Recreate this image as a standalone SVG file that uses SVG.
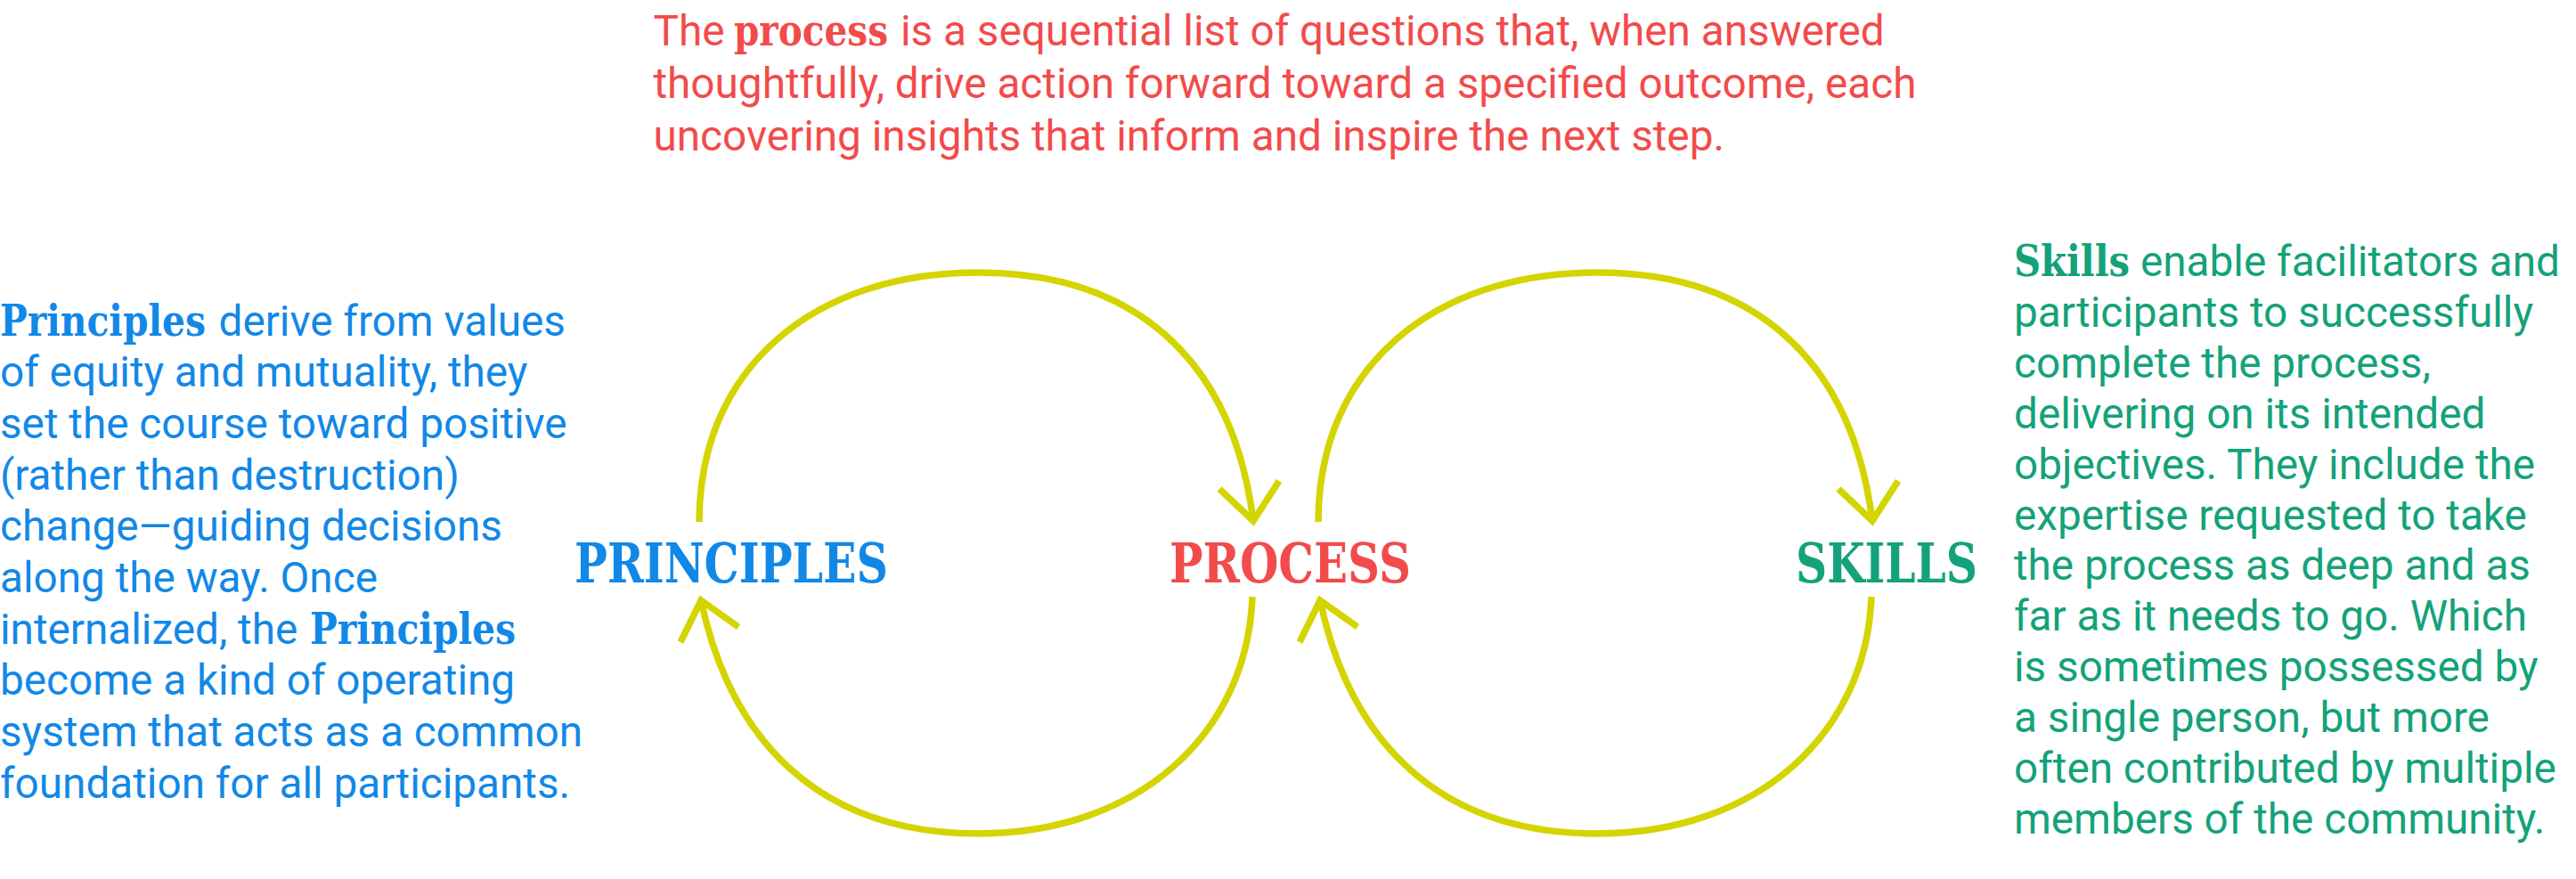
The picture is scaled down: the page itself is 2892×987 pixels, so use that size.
<svg xmlns="http://www.w3.org/2000/svg" width="2892" height="987" viewBox="0 0 2892 987">
<style>
.r{font-family:Roboto,"Liberation Sans",sans-serif;font-size:47.7px;font-weight:400}
.b{font-family:"DejaVu Serif","Liberation Serif",serif;font-size:48px;font-weight:bold}
.lbl{font-family:"DejaVu Serif","Liberation Serif",serif;font-size:61px;font-weight:bold}
.red{fill:#F24B4B}
.blue{fill:#1288E6}
.green{fill:#14A27A}
.arc{fill:none;stroke:#D4D400;stroke-width:7.5;stroke-linecap:butt;stroke-linejoin:miter;stroke-miterlimit:10}
</style>
<defs>
<g id="loop">
<path class="arc" d="M785,586 C785,412 915,306 1098,306 C1280,306 1385,410 1407,585"/>
<polyline class="arc" points="1369,549 1407,585 1436,540"/>
<path class="arc" d="M1406,670 C1400,826 1276,936 1098,936 C918,936 820,830 787,674"/>
<polyline class="arc" points="764,721 787,674 829,704"/>
</g>
</defs>
<rect width="2892" height="987" fill="#FFFFFF"/>
<g id="connectors">
<use href="#loop"/>
<use href="#loop" transform="translate(695,0)"/>
</g>
<g id="process-description">
<text class="r red" x="733.5" y="50.5">The</text>
<text class="b red" x="824" y="50.5" textLength="173" lengthAdjust="spacingAndGlyphs">process</text>
<text class="r red" x="1011" y="50.5">is a sequential list of questions that, when answered</text>
<text class="r red" x="733.5" y="109.5">thoughtfully, drive action forward toward a specified outcome, each</text>
<text class="r red" x="733.5" y="168.5">uncovering insights that inform and inspire the next step.</text>
</g>
<g id="principles-description">
<text class="b blue" x="0" y="376.5" textLength="231" lengthAdjust="spacingAndGlyphs">Principles</text>
<text class="r blue" x="245.5" y="376.5">derive from values</text>
<text class="r blue" x="0" y="434.2">of equity and mutuality, they</text>
<text class="r blue" x="0" y="491.9">set the course toward positive</text>
<text class="r blue" x="0" y="549.6">(rather than destruction)</text>
<text class="r blue" x="0" y="607.3">change—guiding decisions</text>
<text class="r blue" x="0" y="665">along the way. Once</text>
<text class="r blue" x="0" y="722.7">internalized, the</text>
<text class="b blue" x="348" y="722.7" textLength="231" lengthAdjust="spacingAndGlyphs">Principles</text>
<text class="r blue" x="0" y="780.4">become a kind of operating</text>
<text class="r blue" x="0" y="838.1">system that acts as a common</text>
<text class="r blue" x="0" y="895.8">foundation for all participants.</text>
</g>
<g id="skills-description">
<text class="b green" x="2261" y="310" textLength="130" lengthAdjust="spacingAndGlyphs">Skills</text>
<text class="r green" x="2403" y="310">enable facilitators and</text>
<text class="r green" x="2261" y="366.9">participants to successfully</text>
<text class="r green" x="2261" y="423.8">complete the process,</text>
<text class="r green" x="2261" y="480.7">delivering on its intended</text>
<text class="r green" x="2261" y="537.6">objectives. They include the</text>
<text class="r green" x="2261" y="594.5">expertise requested to take</text>
<text class="r green" x="2261" y="651.4">the process as deep and as</text>
<text class="r green" x="2261" y="708.3">far as it needs to go. Which</text>
<text class="r green" x="2261" y="765.2">is sometimes possessed by</text>
<text class="r green" x="2261" y="822.1">a single person, but more</text>
<text class="r green" x="2261" y="879">often contributed by multiple</text>
<text class="r green" x="2261" y="935.9">members of the community.</text>
</g>
<g id="node-principles">
<text class="lbl blue" x="645" y="654" textLength="352" lengthAdjust="spacingAndGlyphs">PRINCIPLES</text>
</g>
<g id="node-process">
<text class="lbl red" x="1313" y="654" textLength="271" lengthAdjust="spacingAndGlyphs">PROCESS</text>
</g>
<g id="node-skills">
<text class="lbl green" x="2016" y="654" textLength="204" lengthAdjust="spacingAndGlyphs">SKILLS</text>
</g>
</svg>
